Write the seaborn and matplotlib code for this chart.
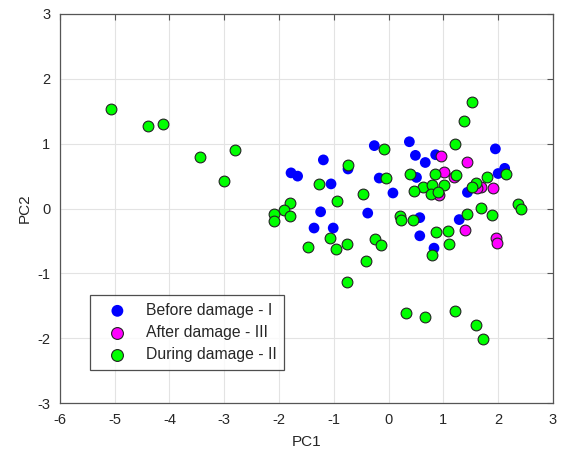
import matplotlib
matplotlib.use("Agg")
import matplotlib.pyplot as plt
import seaborn as sns
import pandas as pd

# Before damage - I
before_x = [-1.78, -1.66, -1.19, -0.74, -1.05, -0.26, -0.17, 0.08, -1.24, -0.38, -1.36, -1.01,
            0.38, 0.49, 0.67, 0.86, 1.95, 2.12, 2.00, 0.51, 1.44, 0.57, 1.29, 0.57, 0.83]
before_y = [0.55, 0.50, 0.75, 0.61, 0.38, 0.97, 0.47, 0.24, -0.05, -0.07, -0.30, -0.30,
            1.03, 0.82, 0.71, 0.83, 0.92, 0.62, 0.54, 0.48, 0.25, -0.14, -0.17, -0.42, -0.61]

# After damage - III
after_x = [0.95, 1.44, 1.02, 1.20, 1.69, 1.61, 1.90, 0.93, 1.40, 1.96, 1.98]
after_y = [0.81, 0.71, 0.56, 0.49, 0.34, 0.31, 0.31, 0.21, -0.33, -0.45, -0.53]

# During damage - II
during_x = [-5.07, -4.40, -4.12, -3.45, -2.81, -3.01, -1.80, -1.91, -2.09, -2.10, -1.80, -1.47,
            1.53, 1.38, 1.21, -0.08, -0.74, 0.40, 0.84, 1.24, 1.80, 2.15, -0.05, -1.27,
            1.59, 1.53, 0.63, 0.80, 1.01, 0.47, 0.77, 0.91, -0.46, -0.94, 2.37, 2.42,
            1.69, 1.89, 1.44, 0.21, 0.23, 0.45, -1.07, -0.24, -0.14, -0.76, -0.96, 0.87,
            1.09, 1.10, 0.80, -0.41, -0.75, 0.31, 0.66, 1.21, 1.60, 1.72]
during_y = [1.53, 1.28, 1.30, 0.79, 0.91, 0.43, 0.08, -0.02, -0.08, -0.19, -0.11, -0.59,
            1.65, 1.35, 1.00, 0.92, 0.67, 0.53, 0.53, 0.51, 0.49, 0.54, 0.47, 0.38,
            0.40, 0.33, 0.34, 0.37, 0.37, 0.27, 0.23, 0.26, 0.22, 0.11, 0.07, -0.01,
            0.01, -0.10, -0.09, -0.12, -0.18, -0.17, -0.45, -0.47, -0.56, -0.54, -0.62, -0.36,
            -0.34, -0.54, -0.71, -0.81, -1.13, -1.61, -1.67, -1.58, -1.79, -2.01]

labels = ["Before damage - I", "After damage - III", "During damage - II"]
colors = ["#0000ff", "#ff00ff", "#00ff00"]
edges = ["none", "#222222", "#222222"]

sns.set_theme(style="white")
plt.rcParams['font.family'] = ['Liberation Sans', 'DejaVu Sans']

fig = plt.figure(figsize=(5.70, 4.49), dpi=100)
ax = fig.add_axes([0.105, 0.102, 0.865, 0.867])

series = [(before_x, before_y), (after_x, after_y), (during_x, during_y)]
for (xs, ys), lab, c, e in zip(series, labels, colors, edges):
    df = pd.DataFrame({"PC1": xs, "PC2": ys})
    sns.scatterplot(data=df, x="PC1", y="PC2", ax=ax, color=c, edgecolor=e,
                    s=60, linewidth=0.8, label=lab, zorder=3)

ax.set_xlim(-6, 3)
ax.set_ylim(-3, 3)
ax.set_xticks(range(-6, 4))
ax.set_yticks(range(-3, 4))
ax.set_xticklabels([str(v) for v in range(-6, 4)])
ax.set_yticklabels([str(v) for v in range(-3, 4)])
ax.grid(True, color="#e3e3e3", linewidth=0.8, zorder=0)
ax.set_axisbelow(True)
for sp in ax.spines.values():
    sp.set_visible(True)
    sp.set_color("#555555")
    sp.set_linewidth(0.9)
ax.tick_params(direction="in", length=4, width=0.8, color="#555555",
               top=True, right=True, labelsize=10.5, labelcolor="#262626", pad=7)
ax.set_xlabel("PC1", fontsize=11, color="#262626", labelpad=6)
ax.set_ylabel("PC2", fontsize=11, color="#262626", labelpad=4)

leg = ax.legend(loc="lower left", bbox_to_anchor=(0.061, 0.0855), borderaxespad=0,
                fontsize=11.3, frameon=True, fancybox=False, edgecolor="#222222",
                labelspacing=0.45, handletextpad=0.55, handlelength=2.5,
                borderpad=0.5, markerscale=1.1)
leg.get_frame().set_linewidth(0.9)

fig.savefig("out.png", dpi=100)
